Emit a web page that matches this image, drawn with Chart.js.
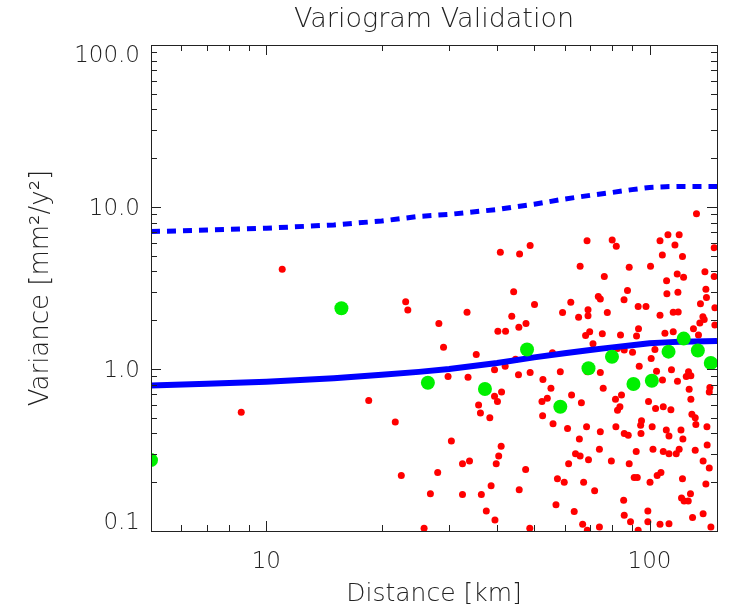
<!DOCTYPE html>
<html>
<head>
<meta charset="utf-8">
<script src="https://cdn.jsdelivr.net/npm/chart.js@4.4.0/dist/chart.umd.min.js"></script>
<style>
  html, body { margin: 0; padding: 0; background: #fff; }
  #wrap { width: 734px; height: 611px; }
</style>
</head>
<body>
<div id="wrap"><canvas id="mycanvas" width="734" height="611"></canvas></div>
<script>
// model curves (distance in km, variance in mm^2/y^2)
var modelDist = [5, 7, 10, 15, 20, 25, 30, 40, 50, 60, 70, 80, 90, 100, 110, 120, 130, 140, 150];
var modelVar = [0.79, 0.81, 0.835, 0.877, 0.92, 0.96, 1.0, 1.09, 1.18, 1.25, 1.31, 1.36, 1.40, 1.44, 1.46, 1.475, 1.48, 1.485, 1.49];
var modelVarUpper = [7.05, 7.2, 7.4, 7.75, 8.2, 8.75, 9.0, 9.65, 10.4, 11.2, 11.8, 12.3, 12.8, 13.2, 13.35, 13.4, 13.4, 13.4, 13.4];

// binned variogram (green)
var binDist = [5.0, 15.7, 26.4, 37.2, 47.9, 58.5, 69.3, 79.8, 90.8, 101.4, 112.1, 122.8, 133.7, 144.5];
var binVar = [0.274, 2.37, 0.823, 0.752, 1.32, 0.585, 1.01, 1.19, 0.808, 0.847, 1.28, 1.54, 1.30, 1.09];

// station pairs (red)
var pairDist = [11.0, 8.6, 18.5,
  40.8, 45.8, 48.8, 23.1, 23.4, 33.4, 28.2, 44.2, 50.1, 43.7, 47.6, 45.6, 40.2, 42.1, 29.0, 35.3, 44.7, 55.8,
  29.8, 33.6, 39.4, 42.0, 45.5, 48.8, 52.7, 55.3, 41.1, 39.4, 40.1, 35.8, 36.2, 38.3, 52.4, 54.1, 52.6, 56.0,
  21.7, 30.4, 41.0, 40.4, 39.8, 32.5, 33.9, 22.5, 28.0, 47.5, 38.6, 45.7, 26.8, 32.5, 36.4, 37.5, 39.5, 25.8, 48.7,
  68.7, 79.9, 81.9, 106.5, 111.7, 119.5, 116.5, 147.5, 108, 121.9, 65.9, 88.5, 100.6, 76.2, 118.1, 122.7, 139.5,
  110.8, 147.5, 87.6, 140.3, 111, 118.6, 73.5, 74.4, 85.8, 140.8, 62.3, 135.8, 93.4, 97.9, 148.1, 69.1, 59.3,
  77.6, 115.3, 118.8, 65.3, 69.1, 106.5, 137.8, 138.9, 135.3, 148.1, 93.6, 130.2, 69.8, 68.1, 75.3, 84.0, 92.5,
  109.7, 115.3, 134.2, 71.2, 82.5, 85.9, 90.3, 103.3, 101, 94, 58.5, 74.4, 104.3, 114.1, 126.4, 128.2, 124.7,
  118.3, 108.1, 68.8, 75.7, 126.9, 143.7, 143.2, 62.6, 84.5, 81.5, 128.2, 99.4, 66.4, 83.7, 82.5, 103.7, 108.6,
  113.7, 129, 131.6, 61.1, 68.5, 74.4, 81.7, 95.3, 94.8, 101.6, 110.6, 120.8, 132.1, 141.2, 85.9, 88, 95, 112.4,
  122.2, 65.6, 74, 102.1, 108.6, 112.4, 117.4, 119.5, 92.3, 131.6, 141.4, 64.1, 65.9, 69.3, 61.5, 79.5, 88.5,
  138, 143.2, 57.5, 59.9, 67.3, 91.2, 92.9, 100.3, 104.7, 107.1, 121.9, 140.3, 71.9, 85.6, 121.2, 123.1, 126.2,
  127.9, 57, 63.6, 85.9, 99, 129.5, 138, 66.9, 89.2, 99, 106.5, 112.4, 68.8, 74, 93.4, 144.6, 132.6];
var pairVar = [4.13, 0.54, 0.64,
  5.26, 5.13, 5.78, 2.60, 2.31, 2.24, 1.91, 3.00, 2.50, 2.12, 1.91, 1.81, 1.71, 1.71, 1.36, 1.23, 1.15, 1.26,
  0.90, 0.89, 0.99, 1.04, 0.92, 0.95, 0.86, 0.76, 0.72, 0.68, 0.63, 0.60, 0.535, 0.50, 0.63, 0.66, 0.515, 0.46,
  0.47, 0.36, 0.334, 0.29, 0.26, 0.26, 0.27, 0.22, 0.23, 0.24, 0.19, 0.18, 0.17, 0.168, 0.168, 0.133, 0.117, 0.104, 0.104,
  6.2, 6.26, 5.73, 6.18, 6.75, 6.73, 5.83, 5.61, 5.06, 4.94, 4.31, 4.25, 4.31, 3.72, 3.86, 3.69, 3.99,
  3.50, 3.72, 3.05, 3.11, 2.91, 2.98, 2.80, 2.70, 2.68, 2.76, 2.58, 2.53, 2.43, 2.43, 2.39, 2.32, 2.23,
  2.23, 2.24, 2.25, 2.09, 2.13, 2.15, 2.10, 2.02, 1.92, 1.87, 1.77, 1.77, 1.70, 1.61, 1.65, 1.62, 1.60,
  1.66, 1.70, 1.62, 1.43, 1.34, 1.31, 1.27, 1.32, 1.16, 1.04, 0.96, 0.95, 0.97, 0.99, 0.96, 0.91, 0.90,
  0.84, 0.855, 0.96, 0.76, 0.75, 0.77, 0.72, 0.69, 0.69, 0.65, 0.65, 0.63, 0.62, 0.585, 0.556, 0.57, 0.585,
  0.56, 0.525, 0.50, 0.43, 0.44, 0.41, 0.44, 0.48, 0.45, 0.44, 0.42, 0.42, 0.455, 0.44, 0.40, 0.39, 0.40, 0.386,
  0.37, 0.37, 0.32, 0.32, 0.31, 0.30, 0.30, 0.32, 0.31, 0.315, 0.34, 0.30, 0.29, 0.275, 0.26, 0.27, 0.26,
  0.27, 0.245, 0.21, 0.20, 0.20, 0.214, 0.214, 0.20, 0.22, 0.23, 0.21, 0.195, 0.177, 0.155, 0.16, 0.153, 0.153,
  0.17, 0.145, 0.132, 0.125, 0.133, 0.121, 0.128, 0.11, 0.114, 0.114, 0.11, 0.111, 0.101, 0.106, 0.101, 0.106, 9.07];

// axis ticks
var xMajorTicks = [10, 100];
var xTickLabels = ['10', '100'];
var xMinorTicks = [6, 7, 8, 9, 20, 30, 40, 50, 60, 70, 80, 90];
var yMajorTicks = [0.1, 1, 10, 100];
var yTickLabels = ['0.1', '1.0', '10.0', '100.0'];
var yMinorTicks = [0.2, 0.3, 0.4, 0.5, 0.6, 0.7, 0.8, 0.9, 2, 3, 4, 5, 6, 7, 8, 9, 20, 30, 40, 50, 60, 70, 80, 90];

function toPoints(xs, ys) {
  var out = [];
  for (var i in xs) out.push({x: xs[i], y: ys[i]});
  return out;
}

var FONT = '"DejaVu Sans", "Liberation Sans", sans-serif';
var INK = '#222';

var idlAxes = {
  id: 'idlAxes',
  afterDraw: function(chart) {
    var ctx = chart.ctx, a = chart.chartArea;
    var xs = chart.scales.x, ys = chart.scales.y;
    ctx.save();
    ctx.strokeStyle = INK;
    ctx.lineWidth = 1;
    ctx.strokeRect(a.left + 0.5, a.top + 0.5, a.right - a.left, a.bottom - a.top);

    function seg(x1, y1, x2, y2) {
      ctx.beginPath(); ctx.moveTo(x1, y1); ctx.lineTo(x2, y2); ctx.stroke();
    }
    function xTick(v, len) {
      var p = Math.round(xs.getPixelForValue(v)) + 0.5;
      seg(p, a.bottom, p, a.bottom - len);
      seg(p, a.top, p, a.top + len);
    }
    function yTick(v, len) {
      var p = Math.round(ys.getPixelForValue(v)) + 0.5;
      seg(a.left, p, a.left + len, p);
      seg(a.right, p, a.right - len, p);
    }
    xMinorTicks.forEach(function(v) { xTick(v, 6); });
    xMajorTicks.forEach(function(v) { xTick(v, 10); });
    yMinorTicks.forEach(function(v) { yTick(v, 6); });
    yMajorTicks.forEach(function(v) { yTick(v, 10); });

    ctx.fillStyle = INK;
    ctx.font = '200 23px ' + FONT;
    ctx.textBaseline = 'middle';
    ctx.textAlign = 'right';
    yMajorTicks.forEach(function(v, i) {
      var off = 2;
      if (i == 0) off = -8;
      if (i == yMajorTicks.length - 1) off = 11;
      ctx.fillText(yTickLabels[i], a.left - 11, ys.getPixelForValue(v) + off);
    });
    ctx.textAlign = 'center';
    xMajorTicks.forEach(function(v, i) {
      ctx.fillText(xTickLabels[i], xs.getPixelForValue(v), a.bottom + 31);
    });

    ctx.font = '200 25px ' + FONT;
    ctx.fillText('Distance [km]', (a.left + a.right) / 2, a.bottom + 63);

    ctx.save();
    ctx.font = '200 26px ' + FONT;
    ctx.translate(41, (a.top + a.bottom) / 2);
    ctx.rotate(-Math.PI / 2);
    ctx.fillText('Variance [mm\u00b2/y\u00b2]', 0, 0);
    ctx.restore();

    ctx.font = '200 27px ' + FONT;
    ctx.fillText('Variogram Validation', (a.left + a.right) / 2, 20);
    ctx.restore();
  }
};

var ctx = document.getElementById('mycanvas');

var chart = new Chart(ctx, {
  type: 'scatter',
  data: {
    datasets: [
      {
        label: 'Binned',
        data: toPoints(binDist, binVar),
        backgroundColor: '#00f000',
        borderWidth: 0,
        pointRadius: 7,
        order: 0,
        clip: 0
      },
      {
        label: 'Model',
        data: toPoints(modelDist, modelVar),
        showLine: true,
        borderColor: '#0000ff',
        borderWidth: 6,
        pointRadius: 0,
        order: 1,
        clip: 0
      },
      {
        label: 'Model upper',
        data: toPoints(modelDist, modelVarUpper),
        showLine: true,
        borderColor: '#0000ff',
        borderWidth: 5,
        borderDash: [9, 7],
        pointRadius: 0,
        order: 2,
        clip: 0
      },
      {
        label: 'Pairs',
        data: toPoints(pairDist, pairVar),
        backgroundColor: '#ff0000',
        borderWidth: 0,
        pointRadius: 3.5,
        order: 3,
        clip: 0
      }
    ]
  },
  options: {
    responsive: false,
    animation: false,
    layout: { padding: { left: 151, right: 17, top: 45, bottom: 80 } },
    plugins: { legend: { display: false }, tooltip: { enabled: false } },
    scales: {
      x: { type: 'logarithmic', min: 5, max: 150, display: false },
      y: { type: 'logarithmic', min: 0.1, max: 100, display: false }
    }
  },
  plugins: [idlAxes]
});
</script>
</body>
</html>
